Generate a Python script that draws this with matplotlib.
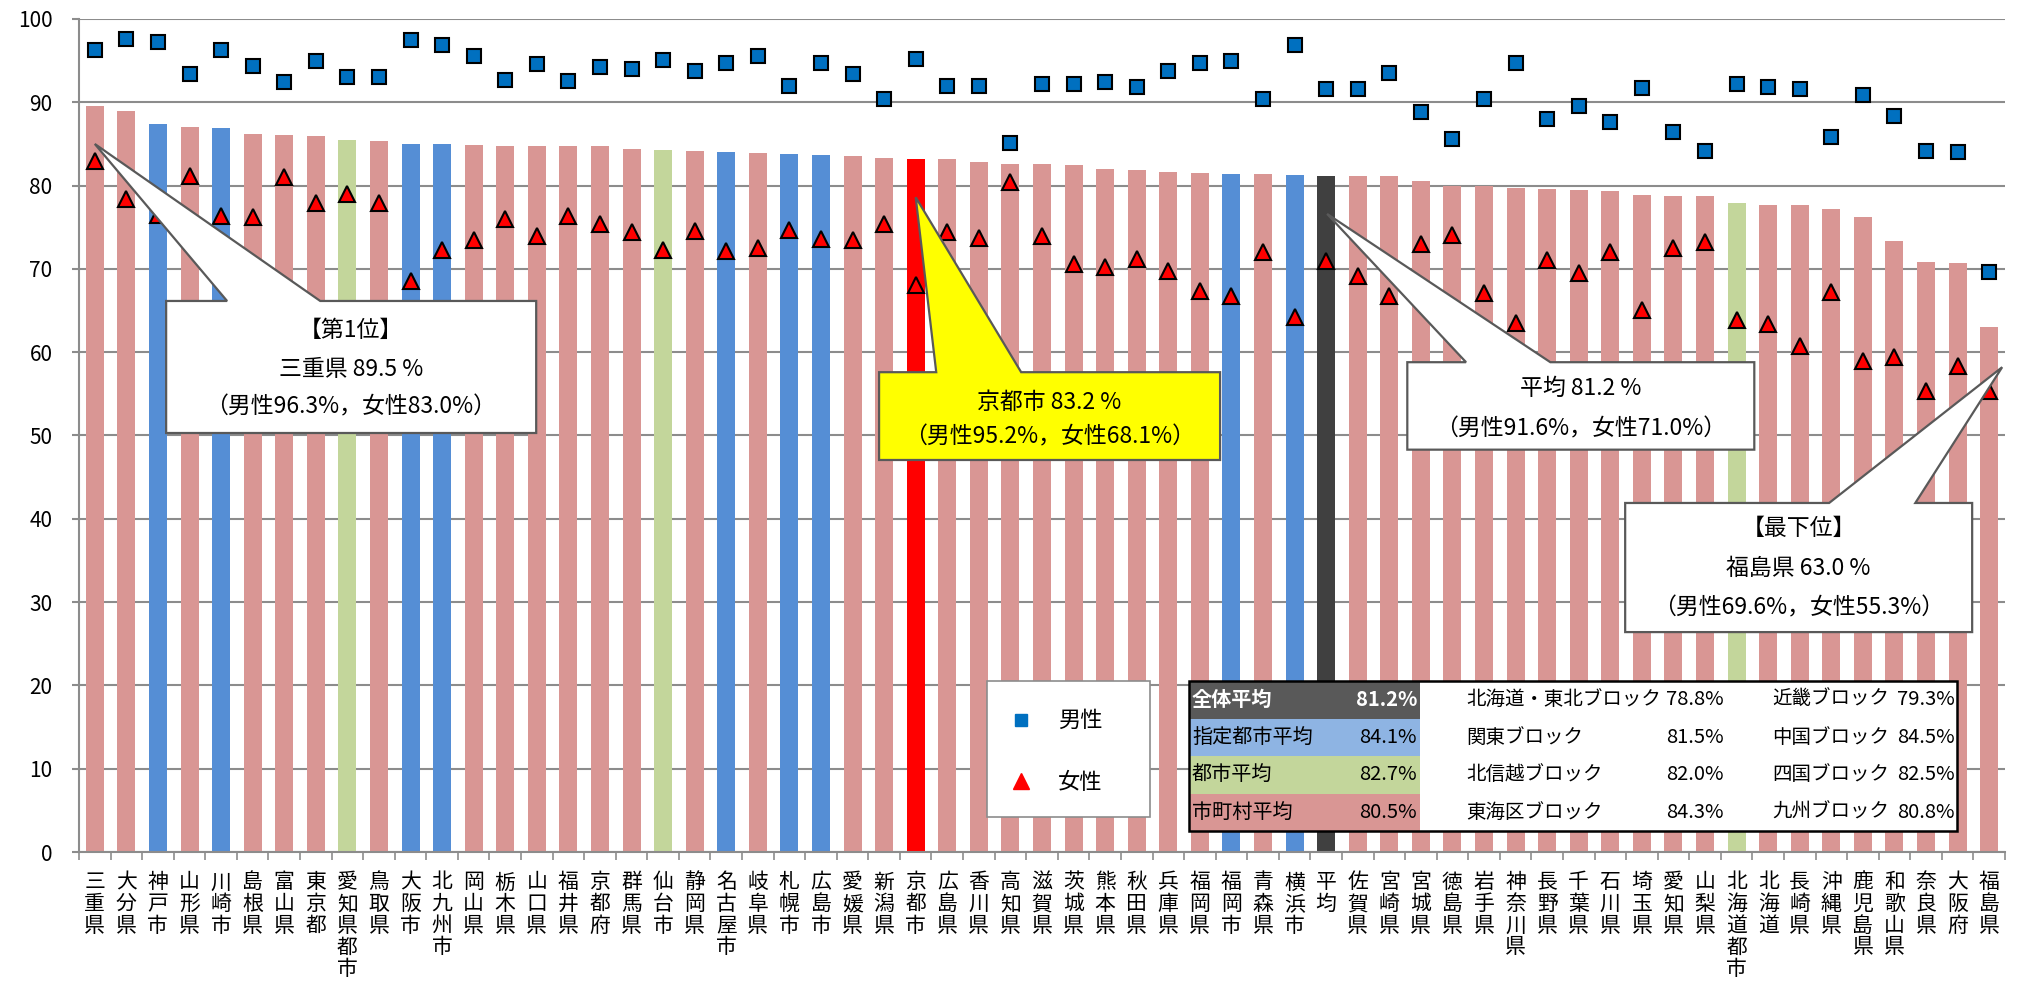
import numpy as np
import matplotlib
matplotlib.use('Agg')
import matplotlib.pyplot as plt
from matplotlib.patches import Polygon, Rectangle
from matplotlib.lines import Line2D

plt.rcParams['font.family'] = ['Noto Sans CJK JP', 'DejaVu Sans']

# 地域名（並び順は合計の降順）
names = ['三重県', '大分県', '神戸市', '山形県', '川崎市', '島根県', '富山県', '東京都', '愛知県都市', '鳥取県',
         '大阪市', '北九州市', '岡山県', '栃木県', '山口県', '福井県', '京都府', '群馬県', '仙台市', '静岡県',
         '名古屋市', '岐阜県', '札幌市', '広島市', '愛媛県', '新潟県', '京都市', '広島県', '香川県', '高知県',
         '滋賀県', '茨城県', '熊本県', '秋田県', '兵庫県', '福岡県', '福岡市', '青森県', '横浜市', '平均',
         '佐賀県', '宮崎県', '宮城県', '徳島県', '岩手県', '神奈川県', '長野県', '千葉県', '石川県', '埼玉県',
         '愛知県', '山梨県', '北海道都市', '北海道', '長崎県', '沖縄県', '鹿児島県', '和歌山県', '奈良県', '大阪府',
         '福島県']

total = [89.5, 88.9, 87.4, 87.0, 86.9, 86.2, 86.1, 86.0, 85.5, 85.3,
         85.0, 85.0, 84.9, 84.8, 84.8, 84.7, 84.7, 84.4, 84.3, 84.2,
         84.0, 83.9, 83.8, 83.7, 83.6, 83.3, 83.2, 83.2, 82.8, 82.6,
         82.6, 82.5, 82.0, 81.9, 81.6, 81.5, 81.4, 81.4, 81.3, 81.2,
         81.1, 81.1, 80.6, 79.9, 79.9, 79.7, 79.6, 79.5, 79.3, 78.9,
         78.8, 78.7, 77.9, 77.7, 77.7, 77.2, 76.2, 73.3, 70.8, 70.7,
         63.0]

male = [96.3, 97.6, 97.2, 93.4, 96.3, 94.3, 92.4, 95.0, 93.0, 93.0,
        97.5, 96.9, 95.6, 92.7, 94.6, 92.6, 94.2, 94.0, 95.1, 93.8,
        94.7, 95.5, 92.0, 94.7, 93.4, 90.4, 95.2, 91.9, 92.0, 85.1,
        92.2, 92.2, 92.4, 91.8, 93.7, 94.7, 95.0, 90.4, 96.9, 91.6,
        91.6, 93.5, 88.8, 85.6, 90.4, 94.7, 88.0, 89.6, 87.6, 91.7,
        86.4, 84.2, 92.2, 91.8, 91.6, 85.8, 90.9, 88.3, 84.2, 84.0,
        69.6]

female = [83.0, 78.4, 76.5, 81.2, 76.4, 76.2, 81.0, 77.9, 79.0, 77.9,
          68.5, 72.3, 73.5, 76.0, 74.0, 76.4, 75.4, 74.4, 72.3, 74.6,
          72.2, 72.5, 74.7, 73.6, 73.5, 75.4, 68.1, 74.4, 73.7, 80.4,
          73.9, 70.6, 70.2, 71.2, 69.7, 67.4, 66.8, 72.0, 64.2, 71.0,
          69.2, 66.7, 73.0, 74.1, 67.1, 63.5, 71.1, 69.5, 72.0, 65.1,
          72.5, 73.2, 63.9, 63.4, 60.8, 67.2, 58.9, 59.4, 55.4, 58.4,
          55.3]

# 区分: p=都道府県, c=指定都市, t=都市, k=京都市, a=平均
kinds = list('ppcpcppptp'
             'ccpppppptp'
             'cpccppkppp'
             'ppppppcpca'
             'pppppppppp'
             'pptppppppp'
             'p')

# 表の値
summary_labels = ['全体平均', '指定都市平均', '都市平均', '市町村平均']
summary_values = ['81.2%', '84.1%', '82.7%', '80.5%']
block_labels_1 = ['北海道・東北ブロック', '関東ブロック', '北信越ブロック', '東海区ブロック']
block_values_1 = ['78.8%', '81.5%', '82.0%', '84.3%']
block_labels_2 = ['近畿ブロック', '中国ブロック', '四国ブロック', '九州ブロック']
block_values_2 = ['79.3%', '84.5%', '82.5%', '80.8%']

kind_colors = {'p': '#D99694', 'c': '#558ED5', 't': '#C3D69B', 'k': '#FF0000', 'a': '#404040'}
grid_col = '#8C8C8C'

fig = plt.figure(figsize=(20.18, 9.88), dpi=100)
ax = fig.add_axes([79 / 2018, 1 - 852 / 988, (2005 - 79) / 2018, (852 - 19) / 988])

x = np.arange(len(names))
ax.bar(x, total, width=0.57, color=[kind_colors[k] for k in kinds], zorder=2)
ax.plot(x, male, linestyle='none', marker='s', markersize=10, markerfacecolor='#0070C0',
        markeredgecolor='black', markeredgewidth=1.5, zorder=4)
ax.plot(x, female, linestyle='none', marker='^', markersize=11, markerfacecolor='#FF0000',
        markeredgecolor='black', markeredgewidth=1.5, zorder=4)

ax.set_xlim(-0.5, len(names) - 0.5)
ax.set_ylim(0, 100)
ax.set_yticks(range(0, 101, 10))
ax.yaxis.grid(True, color=grid_col, linewidth=1.5, zorder=1)
ax.set_axisbelow(True)
for s in ['top', 'right']:
    ax.spines[s].set_visible(False)
for s in ['left', 'bottom']:
    ax.spines[s].set_color(grid_col)
    ax.spines[s].set_linewidth(1.5)
ax.tick_params(axis='y', length=5, width=1.5, color=grid_col, labelsize=15, pad=14)

ax.set_xticks(x)
ax.set_xticklabels(['\n'.join(n) for n in names], fontsize=15, linespacing=0.98, va='top')
ax.set_xticks(np.arange(-0.5, len(names), 1), minor=True)
ax.tick_params(axis='x', which='major', length=0, pad=14)
ax.tick_params(axis='x', which='minor', length=6, width=1.2, color=grid_col)


def callout(box, base, tip, face):
    # box = (x0, x1, ytop, ybottom), base = wedge x on the top edge
    x0, x1, yt, yb = box
    pts = [(x0, yt), (base[0], yt), tip, (base[1], yt), (x1, yt), (x1, yb), (x0, yb)]
    ax.add_patch(Polygon(pts, closed=True, facecolor=face, edgecolor='#595959',
                         linewidth=1.6, zorder=6, clip_on=False))


def note(xc, yc, s):
    ax.text(xc, yc, s, ha='center', va='center', fontsize=16.5, zorder=7)


callout((2.26, 13.98, 66.15, 50.3), (4.19, 7.14), (0.0, 85.0), 'white')
note(8.11, 62.6, '【第1位】')
note(8.11, 57.9, '三重県 89.5 %')
note(8.11, 53.4, '（男性96.3%，女性83.0%）')

callout((24.84, 35.64, 57.6, 47.06), (26.65, 29.34), (26.0, 78.6), '#FFFF00')
note(30.24, 54.0, '京都市 83.2 %')
note(30.24, 49.8, '（男性95.2%，女性68.1%）')

callout((41.57, 52.56, 58.8, 48.3), (43.43, 46.1), (39.03, 76.6), 'white')
note(47.06, 55.7, '平均 81.2 %')
note(47.06, 50.8, '（男性91.6%，女性71.0%）')

callout((48.47, 59.46, 41.9, 26.4), (54.93, 57.66), (60.41, 58.2), 'white')
note(53.96, 38.8, '【最下位】')
note(53.96, 34.0, '福島県 63.0 %')
note(53.96, 29.3, '（男性69.6%，女性55.3%）')

# 凡例と表はピクセル座標の重ね合わせ軸に描く
ov = fig.add_axes([0, 0, 1, 1], zorder=5)
ov.set_xlim(0, 2018)
ov.set_ylim(988, 0)
ov.axis('off')
ov.patch.set_alpha(0)

ov.add_patch(Rectangle((987, 681), 163, 136, facecolor='white', edgecolor=grid_col, linewidth=1.2))
ov.add_line(Line2D([1021], [720], marker='s', markersize=9, color='#0070C0', linestyle='none'))
ov.text(1058, 720, '男性', va='center', fontsize=16)
ov.add_line(Line2D([1021], [781], marker='^', markersize=11, color='#FF0000', linestyle='none'))
ov.text(1058, 782, '女性', va='center', fontsize=16)

tx0, tx1, ty0, ty1 = 1189, 1957, 681, 831
row_h = (ty1 - ty0) / 4
cell_colors = ['#595959', '#8EB4E3', '#C3D69B', '#D99694']
ov.add_patch(Rectangle((tx0, ty0), tx1 - tx0, ty1 - ty0, facecolor='white', edgecolor='none'))
for i in range(4):
    yc = ty0 + row_h * (i + 0.5)
    ov.add_patch(Rectangle((tx0, ty0 + row_h * i), 1420 - tx0, row_h,
                           facecolor=cell_colors[i], edgecolor='none'))
    tc = 'white' if i == 0 else 'black'
    fw = 'bold' if i == 0 else 'normal'
    ov.text(tx0 + 3, yc, summary_labels[i], va='center', fontsize=14.5, color=tc, fontweight=fw)
    ov.text(1417, yc, summary_values[i], va='center', ha='right', fontsize=14.5, color=tc, fontweight=fw)
    ov.text(1466, yc, block_labels_1[i], va='center', fontsize=14)
    ov.text(1724, yc, block_values_1[i], va='center', ha='right', fontsize=14.5)
    ov.text(1772, yc, block_labels_2[i], va='center', fontsize=14)
    ov.text(1955, yc, block_values_2[i], va='center', ha='right', fontsize=14.5)
ov.add_patch(Rectangle((tx0, ty0), tx1 - tx0, ty1 - ty0, facecolor='none', edgecolor='black', linewidth=1.8))

fig.savefig('out.png', dpi=100)
